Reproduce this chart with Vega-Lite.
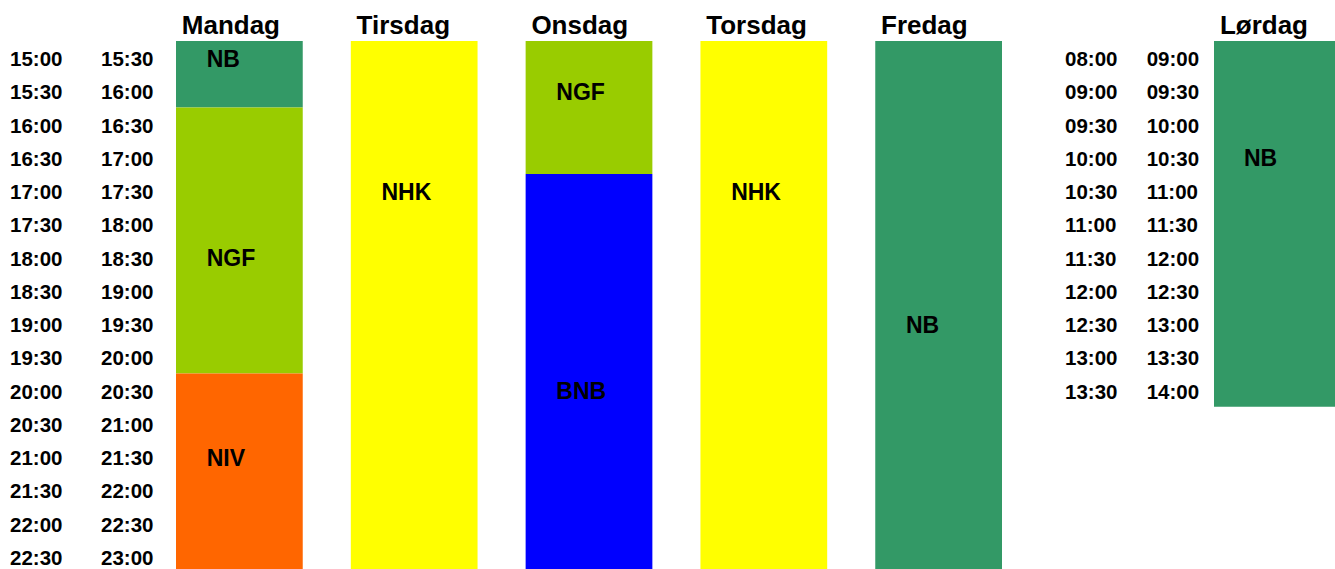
{
  "$schema": "https://vega.github.io/schema/vega-lite/v6.json",
  "padding": {"left": 0, "top": 12, "right": 0, "bottom": 0},
  "background": "white",
  "bounds": "flush",
  "spacing": 0,
  "config": {"view": {"stroke": null}, "font": "Liberation Sans", "concat": {"spacing": 0}},
  "datasets": {
    "weekTimes": [
      {"from": "15:00", "to": "15:30"},
      {"from": "15:30", "to": "16:00"},
      {"from": "16:00", "to": "16:30"},
      {"from": "16:30", "to": "17:00"},
      {"from": "17:00", "to": "17:30"},
      {"from": "17:30", "to": "18:00"},
      {"from": "18:00", "to": "18:30"},
      {"from": "18:30", "to": "19:00"},
      {"from": "19:00", "to": "19:30"},
      {"from": "19:30", "to": "20:00"},
      {"from": "20:00", "to": "20:30"},
      {"from": "20:30", "to": "21:00"},
      {"from": "21:00", "to": "21:30"},
      {"from": "21:30", "to": "22:00"},
      {"from": "22:00", "to": "22:30"},
      {"from": "22:30", "to": "23:00"}
    ],
    "satTimes": [
      {"from": "08:00", "to": "09:00"},
      {"from": "09:00", "to": "09:30"},
      {"from": "09:30", "to": "10:00"},
      {"from": "10:00", "to": "10:30"},
      {"from": "10:30", "to": "11:00"},
      {"from": "11:00", "to": "11:30"},
      {"from": "11:30", "to": "12:00"},
      {"from": "12:00", "to": "12:30"},
      {"from": "12:30", "to": "13:00"},
      {"from": "13:00", "to": "13:30"},
      {"from": "13:30", "to": "14:00"}
    ],
    "blocks": [
      {"day": "Mandag", "club": "NB", "start": 0, "end": 2, "labelRow": 0.5},
      {"day": "Mandag", "club": "NGF", "start": 2, "end": 10, "labelRow": 6.5},
      {"day": "Mandag", "club": "NIV", "start": 10, "end": 16, "labelRow": 12.5},
      {"day": "Tirsdag", "club": "NHK", "start": 0, "end": 16, "labelRow": 4.5},
      {"day": "Onsdag", "club": "NGF", "start": 0, "end": 4, "labelRow": 1.5},
      {"day": "Onsdag", "club": "BNB", "start": 4, "end": 16, "labelRow": 10.5},
      {"day": "Torsdag", "club": "NHK", "start": 0, "end": 16, "labelRow": 4.5},
      {"day": "Fredag", "club": "NB", "start": 0, "end": 16, "labelRow": 8.5},
      {"day": "Lørdag", "club": "NB", "start": 0, "end": 11, "labelRow": 3.5}
    ]
  },
  "hconcat": [
    {
      "width": 176,
      "height": 532,
      "data": {"name": "weekTimes"},
      "transform": [{"fold": ["from", "to"], "as": ["col", "time"]}],
      "mark": {"type": "text", "align": "left", "baseline": "middle", "dx": 10, "dy": 2.5, "fontSize": 20.5, "fontWeight": "bold", "color": "black"},
      "encoding": {
        "x": {"field": "col", "type": "nominal", "bandPosition": 0, "scale": {"type": "band", "domain": ["from", "to"], "paddingInner": 0.0659, "paddingOuter": 0, "align": 0}, "axis": null},
        "y": {"field": "from", "type": "ordinal", "sort": null, "scale": {"type": "band", "paddingInner": 0, "paddingOuter": 0}, "axis": null},
        "text": {"field": "time"}
      }
    },
    {
      "width": 826,
      "height": 532,
      "data": {"name": "blocks"},
      "transform": [{"filter": "datum.day !== 'Lørdag'"}],
      "encoding": {
        "x": {"field": "day", "type": "nominal", "bandPosition": 0,
          "scale": {"type": "band", "domain": ["Mandag", "Tirsdag", "Onsdag", "Torsdag", "Fredag"], "paddingInner": 0.275, "paddingOuter": 0},
          "axis": {"orient": "top", "title": null, "domain": false, "ticks": false, "tickSize": 0, "grid": false, "labelPadding": 7.7, "labelFontSize": 26, "labelFontWeight": "bold", "labelColor": "black", "labelAlign": "left", "labelBaseline": "alphabetic", "labelOffset": -57.6, "labelAngle": 0}}
      },
      "layer": [
        {
          "mark": {"type": "rect"},
          "encoding": {
            "y": {"field": "start", "type": "quantitative", "scale": {"domain": [0, 16], "reverse": true, "nice": false, "zero": false}, "axis": null},
            "y2": {"field": "end"},
            "color": {"field": "club", "type": "nominal", "scale": {"domain": ["NB", "NGF", "NIV", "NHK", "BNB"], "range": ["#339966", "#99CC00", "#FF6600", "#FFFF00", "#0000FF"]}, "legend": null}
          }
        },
        {
          "mark": {"type": "text", "align": "left", "baseline": "middle", "dx": 30.7, "dy": 2, "fontSize": 23, "fontWeight": "bold", "color": "black"},
          "encoding": {
            "y": {"field": "labelRow", "type": "quantitative"},
            "text": {"field": "club"}
          }
        }
      ]
    },
    {
      "width": 212,
      "height": 365.75,
      "data": {"name": "satTimes"},
      "transform": [{"fold": ["from", "to"], "as": ["col", "time"]}],
      "mark": {"type": "text", "align": "left", "baseline": "middle", "dx": 63, "dy": 2.5, "fontSize": 20.5, "fontWeight": "bold", "color": "black"},
      "encoding": {
        "x": {"field": "col", "type": "nominal", "bandPosition": 0, "scale": {"type": "band", "domain": ["from", "to"], "paddingInner": 0, "paddingOuter": 0.2975, "align": 0}, "axis": null},
        "y": {"field": "from", "type": "ordinal", "sort": null, "scale": {"type": "band", "paddingInner": 0, "paddingOuter": 0}, "axis": null},
        "text": {"field": "time"}
      }
    },
    {
      "width": 127,
      "height": 532,
      "data": {"name": "blocks"},
      "transform": [{"filter": "datum.day === 'Lørdag'"}],
      "encoding": {
        "x": {"field": "day", "type": "nominal", "bandPosition": 0,
          "scale": {"type": "band", "domain": ["Lørdag"], "paddingInner": 0, "paddingOuter": 0},
          "axis": {"orient": "top", "title": null, "domain": false, "ticks": false, "tickSize": 0, "grid": false, "labelPadding": 7.7, "labelFontSize": 26, "labelFontWeight": "bold", "labelColor": "black", "labelAlign": "left", "labelBaseline": "alphabetic", "labelOffset": -57.6, "labelAngle": 0}}
      },
      "layer": [
        {
          "mark": {"type": "rect"},
          "encoding": {
            "y": {"field": "start", "type": "quantitative", "scale": {"domain": [0, 16], "reverse": true, "nice": false, "zero": false}, "axis": null},
            "y2": {"field": "end"},
            "color": {"field": "club", "type": "nominal", "scale": {"domain": ["NB", "NGF", "NIV", "NHK", "BNB"], "range": ["#339966", "#99CC00", "#FF6600", "#FFFF00", "#0000FF"]}, "legend": null}
          }
        },
        {
          "mark": {"type": "text", "align": "left", "baseline": "middle", "dx": 30, "dy": 2, "fontSize": 23, "fontWeight": "bold", "color": "black"},
          "encoding": {
            "y": {"field": "labelRow", "type": "quantitative"},
            "text": {"field": "club"}
          }
        }
      ]
    }
  ]
}
